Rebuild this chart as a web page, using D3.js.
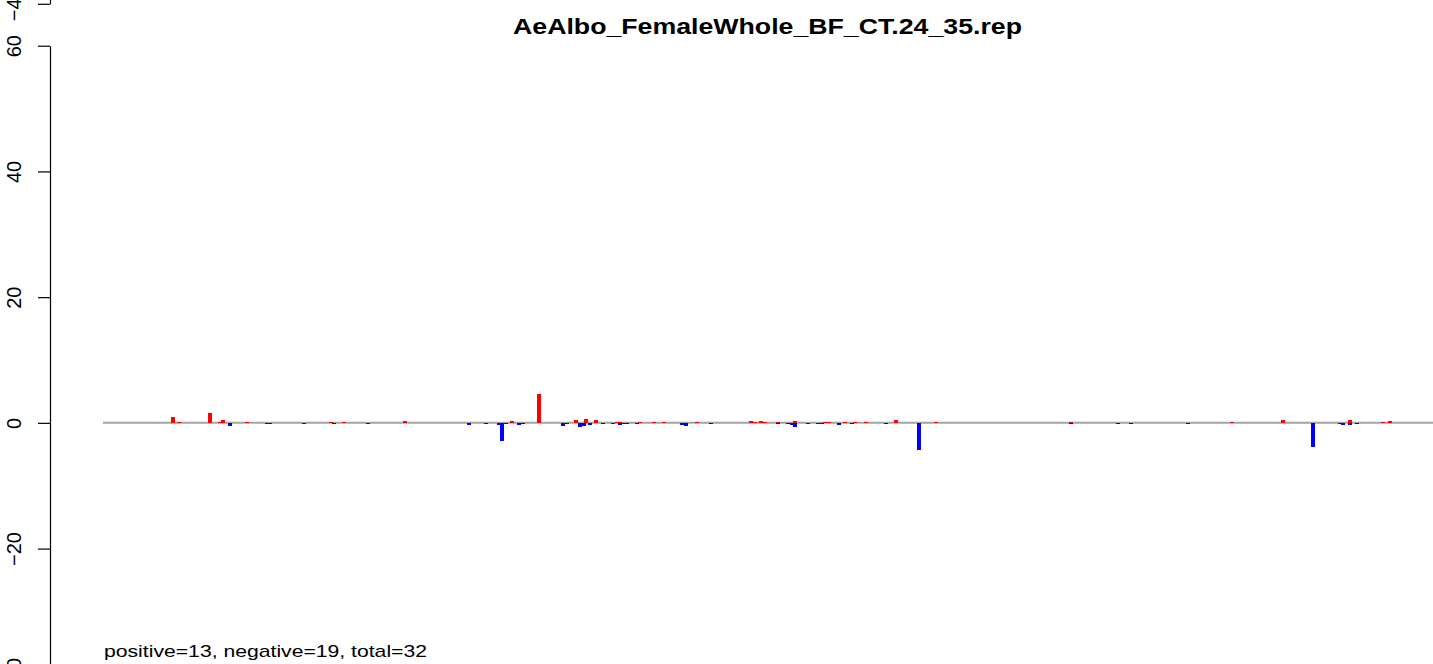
<!DOCTYPE html>
<html>
<head>
<meta charset="utf-8">
<script src="https://cdn.jsdelivr.net/npm/d3@7"></script>
<style>
  html, body { margin: 0; padding: 0; background: #fff; }
  svg { display: block; }
  text { font-family: "Liberation Sans", Arial, Helvetica, sans-serif; }
</style>
</head>
<body>
<svg id="chart" width="1433" height="664"></svg>
<script>
// ---- data (positions along the sequence, in arbitrary position units) ----
const title = "AeAlbo_FemaleWhole_BF_CT.24_35.rep";
const summary = "positive=13, negative=19, total=32";
const yTicks = [-40, -20, 0, 20, 40, 60];

const posPositions = [70, 76, 107, 117, 120, 144, 228, 241, 302, 409, 436, 473, 483, 493, 514, 517, 537, 551, 561, 594,
  648, 652, 658, 662, 675, 692, 722, 726, 742, 752, 763, 793, 833, 968, 1129, 1180, 1247, 1280, 1287];
const posValues = [1.0, 0.15, 1.6, 0.15, 0.5, 0.15, 0.15, 0.15, 0.35, 0.35, 4.6, 0.5, 0.65, 0.5, 0.2, 0.2, 0.2, 0.2, 0.2, 0.2,
  0.35, 0.15, 0.35, 0.15, 0.15, 0.35, 0.15, 0.15, 0.15, 0.15, 0.15, 0.5, 0.15, 0.15, 0.15, 0.5, 0.5, 0.15, 0.35];

const negPositions = [127, 164, 167, 201, 231, 265, 366, 383, 396, 399, 403, 416, 420, 460, 464, 477, 481, 487, 500, 510,
  517, 521, 524, 534, 579, 583, 608, 675, 685, 689, 692, 705, 715, 719, 736, 749, 783, 816, 968, 1015, 1028, 1085, 1210,
  1237, 1240, 1247, 1254];
const negValues = [-0.5, -0.15, -0.15, -0.15, -0.2, -0.15, -0.3, -0.15, -0.3, -2.9, -0.15, -0.35, -0.15, -0.5, -0.15,
  -0.65, -0.5, -0.4, -0.15, -0.15, -0.35, -0.15, -0.15, -0.15, -0.3, -0.45, -0.15, -0.15, -0.15, -0.35, -0.65, -0.15,
  -0.15, -0.15, -0.35, -0.15, -0.15, -4.3, -0.15, -0.15, -0.15, -0.15, -3.8, -0.15, -0.3, -0.35, -0.15];

// ---- layout ----
const svg = d3.select("#chart");
const W = 1433, H = 664;
const x = d3.scaleLinear().domain([0, 1330]).range([103, 1433]);
const y = d3.scaleLinear().domain([-40, 60]).range([674.3, 45.7]);
const barW = 4;

// zero line
svg.append("line")
  .attr("x1", x(0)).attr("x2", W)
  .attr("y1", y(0)).attr("y2", y(0))
  .attr("stroke", "#a3a3a3").attr("stroke-width", 2);

// bars
const bars = posPositions.map((p, i) => ({p, v: posValues[i], c: "#ff0000"}))
  .concat(negPositions.map((p, i) => ({p, v: negValues[i], c: "#0000ff"})));
svg.append("g").selectAll("rect").data(bars).join("rect")
  .attr("x", d => x(d.p) - barW / 2)
  .attr("width", barW)
  .attr("y", d => Math.min(y(d.v), y(0)))
  .attr("height", d => Math.max(1, Math.abs(y(d.v) - y(0))))
  .attr("fill", d => d.c)
  .attr("shape-rendering", "crispEdges");

// y axis (drawn twice: the picture wraps vertically)
function drawAxis(offset) {
  const g = svg.append("g").attr("transform", `translate(50,${offset})`);
  const ax = d3.axisLeft(y).tickValues(yTicks).tickSize(12).tickSizeOuter(0).tickFormat(d3.format("d"));
  g.call(ax);
  g.select(".domain").attr("stroke", "#000").attr("stroke-width", 1.2);
  g.selectAll(".tick line").attr("stroke", "#000").attr("stroke-width", 1.2);
  g.selectAll(".tick text").remove();
  g.selectAll(".tick").append("text")
    .attr("transform", "translate(-29,0) rotate(-90)")
    .attr("text-anchor", "middle")
    .attr("fill", "#000")
    .style("font-size", "20px")
    .text(d => d3.format("d")(d).replace("-", "\u2212"));
}
drawAxis(0);
drawAxis(-670.5);

// title
svg.append("text")
  .attr("x", 767.5).attr("y", 34)
  .attr("text-anchor", "middle")
  .style("font-size", "22px").style("font-weight", "bold")
  .attr("textLength", 509).attr("lengthAdjust", "spacingAndGlyphs")
  .text(title);

// summary
svg.append("text")
  .attr("x", 104).attr("y", 657)
  .style("font-size", "17px")
  .attr("textLength", 323).attr("lengthAdjust", "spacingAndGlyphs")
  .text(summary);
</script>
</body>
</html>
